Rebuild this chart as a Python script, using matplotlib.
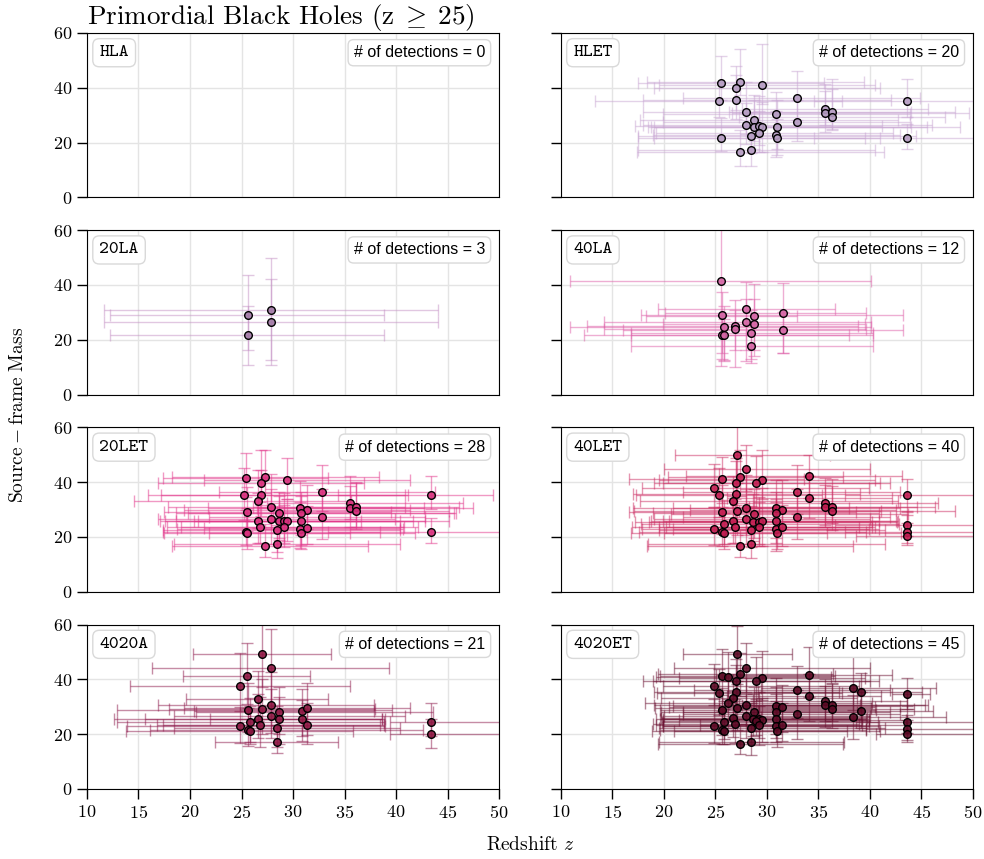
import matplotlib
matplotlib.use('Agg')
import matplotlib.pyplot as plt
from matplotlib.colors import to_rgba

plt.rcParams['font.family'] = 'serif'
plt.rcParams['font.serif'] = ['cmr10']
plt.rcParams['mathtext.fontset'] = 'cm'
plt.rcParams['axes.unicode_minus'] = False
plt.rcParams['axes.formatter.use_mathtext'] = True

names = ['HLA', 'HLET', '20LA', '40LA', '20LET', '40LET', '4020A', '4020ET']
n_detections = [0, 20, 3, 12, 28, 40, 21, 45]
marker_colors = ['#d4b9da', '#b59cc2', '#a27aa6', '#d466a5', '#d8307d', '#c21e52', '#8e1843', '#5c0a25']
bar_colors = ['#d4b9da', '#c9a6d3', '#c591c5', '#de5fa8', '#e2358a', '#cc2c62', '#8e1a4c', '#6a0f30']

# HLA: nothing detected
hla_z, hla_m = [], []
hla_zlo, hla_zhi, hla_mlo, hla_mhi = [], [], [], []

hlet_z = [25.5, 27.4, 27.0, 29.5, 25.3, 27.0, 32.9, 43.6, 28.0, 30.9, 35.6, 35.6, 36.3, 36.3, 28.7,
          28.0, 28.7, 29.2, 29.5, 31.0, 32.9, 25.5, 28.5, 29.2, 30.9, 31.0, 43.6, 27.4, 28.5]
hlet_m = [41.6, 42.2, 39.8, 41.0, 35.2, 35.5, 36.2, 35.2, 31.0, 30.6, 32.4, 30.7, 31.1, 29.5, 28.4,
          26.5, 25.7, 26.0, 25.7, 25.7, 27.4, 21.8, 22.3, 23.4, 22.7, 21.5, 21.8, 16.6, 17.4]
hlet_zlo = [8, 9, 8, 10, 12, 9, 11, 9, 10, 11, 8, 9, 10, 9, 11, 10, 10, 12, 11, 12, 13, 8, 11, 10, 12, 12, 9, 10, 11]
hlet_zhi = [10, 12, 14, 11, 12, 15, 12, 9, 16, 13, 10, 14, 12, 11, 14, 18, 20, 12, 16, 13, 11, 14, 16, 13, 12, 10, 9, 14, 12]
hlet_mlo = [6, 5, 8, 7, 6, 7, 8, 6, 8, 9, 6, 7, 6, 5, 8, 7, 8, 7, 9, 8, 7, 5, 6, 7, 8, 6, 4, 5, 6]
hlet_mhi = [10, 12, 8, 15, 7, 9, 10, 8, 11, 8, 9, 8, 12, 10, 9, 8, 10, 11, 9, 10, 8, 7, 9, 8, 9, 7, 5, 8, 9]

la20_z = [27.9, 25.6, 27.9, 25.6]
la20_m = [31.0, 29.1, 26.4, 21.6]
la20_zlo = [16.2, 13.4, 16.2, 13.4]
la20_zhi = [16.2, 13.2, 16.2, 13.2]
la20_mlo = [18.3, 12.7, 15.5, 10.7]
la20_mhi = [18.7, 14.5, 15.8, 10.8]

la40_z = [25.5, 28.0, 25.6, 28.7, 31.6, 28.0, 28.7, 26.9, 26.9, 25.8, 31.6, 28.5, 25.6, 25.8, 28.5]
la40_m = [41.6, 31.2, 29.1, 28.7, 29.9, 26.4, 25.8, 25.2, 23.9, 24.8, 23.5, 22.5, 21.8, 21.7, 17.6]
la40_zlo = [14.6, 8.6, 7.8, 10.4, 11.5, 13.8, 8.8, 14.4, 12.7, 14.9, 15.6, 11.7, 8.8, 13.6, 11.7]
la40_zhi = [14.6, 8.6, 17.6, 4.2, 8.0, 12.1, 10.8, 11.9, 12.7, 14.3, 11.6, 11.8, 14.7, 12.2, 11.8]
la40_mlo = [31.0, 19.1, 13.9, 14.7, 14.7, 10.2, 9.6, 9.0, 14.0, 12.3, 8.3, 9.7, 8.9, 9.3, 6.2]
la40_mhi = [20.0, 9.8, 8.5, 11.6, 10.7, 8.5, 9.0, 9.2, 7.0, 7.5, 6.6, 8.5, 7.4, 6.0, 8.0]

let20_z = [25.4, 27.3, 26.9, 29.4, 25.2, 26.9, 26.6, 32.8, 43.4, 27.9, 30.7, 31.4, 30.8, 35.5, 35.5,
           36.1, 36.1, 28.6, 25.5, 26.6, 27.9, 28.6, 29.1, 29.4, 30.8, 32.8, 26.8, 29.1, 28.4, 30.7,
           31.4, 30.8, 25.4, 25.5, 43.4, 27.3, 28.4]
let20_m = [41.5, 41.9, 39.8, 40.8, 35.3, 35.5, 33.3, 36.4, 35.3, 30.9, 30.5, 29.8, 28.6, 32.4, 30.7,
           30.9, 29.6, 28.6, 29.1, 25.9, 26.4, 25.9, 25.9, 25.7, 25.9, 27.4, 23.8, 23.5, 22.4, 22.9,
           23.4, 21.6, 21.9, 21.6, 21.9, 16.7, 17.3]
let20_zlo = [8, 9, 10, 8, 8, 11, 12, 10, 9, 10, 9, 12, 11, 8, 9, 10, 8, 10, 8, 9,
             11, 10, 12, 9, 10, 11, 9, 10, 11, 12, 10, 9, 8, 8, 10, 9, 10]
let20_zhi = [8, 11, 10, 12, 16, 14, 9, 11, 6, 13, 12, 10, 15, 11, 12, 10, 9, 17, 14, 10,
             12, 13, 16, 11, 12, 10, 14, 13, 12, 10, 9, 11, 13, 10, 8, 10, 12]
let20_mlo = [7, 6, 8, 7, 9, 8, 10, 7, 5, 8, 9, 7, 8, 6, 7, 8, 6, 9, 7, 8,
             9, 7, 8, 7, 9, 8, 6, 7, 8, 7, 6, 6, 5, 6, 4, 4, 5]
let20_mhi = [9, 10, 12, 8, 10, 9, 11, 10, 7, 12, 10, 9, 8, 10, 8, 9, 10, 8, 9, 10,
             11, 9, 10, 8, 9, 10, 9, 8, 9, 10, 8, 7, 8, 9, 5, 8, 7]

let40_z = [27.1, 28.0, 27.4, 25.6, 27.0, 29.5, 28.9, 34.1, 24.9, 25.3, 27.0, 26.7, 32.9, 34.1, 43.6,
           35.6, 35.6, 36.3, 36.3, 27.1, 25.6, 28.0, 28.7, 30.9, 31.5, 30.9, 32.9, 26.7, 28.0, 28.6,
           29.2, 29.5, 30.9, 25.8, 26.9, 24.9, 29.2, 30.9, 31.5, 28.5, 31.0, 25.6, 25.8, 43.6, 43.6,
           43.6, 27.4, 28.5]
let40_m = [49.8, 44.7, 41.9, 41.3, 39.8, 40.7, 39.6, 42.1, 37.8, 35.3, 35.6, 33.2, 36.3, 34.1, 35.2,
           32.5, 30.8, 31.0, 29.6, 29.6, 29.1, 30.7, 28.5, 30.7, 29.9, 28.6, 27.4, 25.8, 26.4, 25.6,
           25.6, 25.8, 25.8, 24.6, 23.8, 23.0, 23.6, 22.8, 23.6, 22.4, 21.6, 21.8, 21.6, 24.4, 21.9,
           20.2, 16.7, 17.5]
let40_zlo = [6, 8, 7, 9, 8, 10, 9, 12, 7, 8, 10, 9, 11, 8, 6, 9, 10, 8, 9, 10, 9, 11, 8, 10,
             9, 12, 11, 8, 9, 10, 12, 9, 11, 8, 10, 7, 9, 10, 12, 9, 11, 8, 9, 7, 6, 5, 9, 10]
let40_zhi = [9, 12, 10, 8, 14, 11, 13, 9, 15, 10, 12, 16, 10, 8, 12, 11, 9, 10, 12, 14, 13, 10, 15, 12,
             11, 10, 9, 16, 12, 14, 11, 13, 10, 17, 12, 15, 11, 10, 9, 13, 12, 14, 10, 12, 14, 12, 11, 13]
let40_mlo = [10, 8, 7, 9, 8, 7, 9, 8, 7, 8, 9, 10, 8, 7, 6, 8, 7, 6, 7, 9, 8, 10, 9, 8,
             7, 9, 8, 8, 9, 7, 8, 9, 8, 7, 6, 6, 7, 8, 7, 6, 6, 5, 6, 4, 4, 3, 4, 5]
let40_mhi = [14, 9, 10, 8, 9, 11, 10, 8, 9, 10, 12, 9, 10, 8, 6, 9, 8, 10, 9, 11, 10, 12, 9, 10,
             11, 8, 10, 9, 11, 10, 9, 12, 8, 9, 10, 8, 9, 10, 8, 9, 8, 9, 7, 5, 6, 5, 6, 6]

a4020_z = [27.0, 27.9, 25.5, 24.9, 26.6, 25.6, 27.0, 27.9, 28.6, 30.9, 31.4, 26.6, 27.9, 28.6, 30.9,
           25.8, 26.8, 31.4, 24.9, 25.6, 25.8, 28.4, 28.4, 43.4, 43.4]
a4020_m = [49.4, 44.3, 41.2, 37.5, 33.0, 28.8, 29.1, 30.6, 28.2, 28.4, 29.6, 25.5, 26.5, 25.5, 25.5,
           24.3, 23.5, 23.4, 22.9, 21.6, 21.3, 22.2, 17.3, 24.3, 20.1]
a4020_zlo = [6.7, 11.6, 6.2, 10.7, 7.0, 12.7, 9.0, 11.0, 8.0, 10.5, 12.0, 14.0, 9.5, 13.0, 9.0,
             12.9, 10.0, 14.0, 11.0, 9.5, 12.0, 10.0, 6.0, 4.0, 4.0]
a4020_zhi = [6.7, 11.4, 6.1, 10.6, 6.8, 14.0, 11.0, 10.0, 15.0, 7.0, 10.0, 12.0, 13.0, 10.0, 8.0,
             13.0, 12.0, 7.0, 14.0, 17.0, 10.0, 12.0, 6.0, 12.0, 12.0]
a4020_mlo = [12, 14, 10, 9, 8, 8, 9, 10, 8, 9, 10, 7, 8, 9, 8, 7, 8, 7, 6, 6, 5, 7, 4, 5, 5]
a4020_mhi = [15, 14, 12, 12, 10, 10, 11, 12, 9, 8, 9, 9, 10, 8, 7, 9, 10, 8, 7, 8, 9, 8, 6, 7, 5.5]

et4020_z = [27.1, 28.0, 27.4, 25.6, 26.2, 27.0, 29.5, 28.9, 34.1, 24.9, 25.3, 27.0, 32.9, 34.1, 43.6,
            38.4, 39.1, 26.7, 26.2, 28.0, 27.1, 25.6, 28.7, 30.9, 31.5, 30.9, 35.6, 35.6, 36.3, 36.3,
            39.1, 38.4, 32.9, 26.7, 28.0, 28.6, 29.2, 29.5, 30.9, 25.8, 26.9, 24.9, 28.9, 29.2, 30.9,
            31.5, 28.5, 31.0, 25.6, 25.8, 43.6, 43.6, 43.6, 27.4, 28.5]
et4020_m = [49.4, 44.3, 41.8, 41.2, 41.0, 39.6, 40.5, 39.3, 41.7, 37.5, 34.9, 35.4, 36.0, 33.8, 34.8,
            36.9, 35.3, 33.1, 31.3, 30.6, 29.4, 28.8, 28.1, 30.4, 29.8, 28.2, 32.0, 30.6, 30.8, 29.3,
            28.3, 26.3, 27.2, 25.8, 26.5, 25.5, 25.5, 25.3, 25.5, 24.3, 23.7, 22.9, 24.8, 23.2, 23.1,
            23.4, 22.3, 21.2, 21.6, 21.3, 24.3, 21.9, 20.1, 16.6, 17.3]
et4020_zlo = [5.2, 7, 8, 6, 7, 9, 8, 10, 9, 5, 6, 8, 10, 8, 1.5, 9, 10, 7, 8, 9, 8, 6, 9, 10, 11, 9, 10, 8,
              9, 11, 10, 9, 11, 7, 8, 9, 10, 8, 11, 6, 8, 5, 9, 10, 11, 8, 9, 10, 6, 7, 5, 4, 3, 8, 9]
et4020_zhi = [5.3, 12, 9, 11, 10, 13, 10, 12, 8, 14, 12, 10, 9, 7, 2.2, 8, 6, 12, 14, 11, 13, 15, 10, 12,
              9, 11, 8, 10, 9, 8, 7, 9, 10, 13, 12, 11, 10, 14, 9, 15, 12, 16, 11, 10, 9, 12, 13, 10,
              14, 12, 10, 12, 11, 10, 9]
et4020_mlo = [10, 9, 8, 7, 8, 9, 8, 7, 8, 7, 8, 9, 10, 9, 5.6, 8, 10, 8, 9, 7, 8, 9, 7, 8, 9, 8, 7, 8,
              6, 7, 6, 8, 9, 7, 8, 6, 7, 8, 7, 6, 7, 6, 5, 7, 6, 6, 5, 6, 5, 5, 4, 4, 3, 4, 5]
et4020_mhi = [10, 9, 8, 10, 9, 8, 10, 9, 10, 8, 9, 10, 9, 8, 5.8, 11.5, 7, 9, 8, 10, 9, 8, 9, 10, 8, 9,
              8, 7, 8, 9, 7, 8, 9, 10, 8, 9, 10, 8, 9, 8, 9, 10, 8, 7, 9, 8, 9, 8, 7, 8, 6, 5, 5, 7, 6]

all_z = [hla_z, hlet_z, la20_z, la40_z, let20_z, let40_z, a4020_z, et4020_z]
all_m = [hla_m, hlet_m, la20_m, la40_m, let20_m, let40_m, a4020_m, et4020_m]
all_zlo = [hla_zlo, hlet_zlo, la20_zlo, la40_zlo, let20_zlo, let40_zlo, a4020_zlo, et4020_zlo]
all_zhi = [hla_zhi, hlet_zhi, la20_zhi, la40_zhi, let20_zhi, let40_zhi, a4020_zhi, et4020_zhi]
all_mlo = [hla_mlo, hlet_mlo, la20_mlo, la40_mlo, let20_mlo, let40_mlo, a4020_mlo, et4020_mlo]
all_mhi = [hla_mhi, hlet_mhi, la20_mhi, la40_mhi, let20_mhi, let40_mhi, a4020_mhi, et4020_mhi]


fig, axes = plt.subplots(4, 2, figsize=(9.84, 8.59), dpi=100, sharex=True, sharey=True)
fig.subplots_adjust(left=0.0884, right=0.9888, top=0.9616, bottom=0.0815, wspace=0.15, hspace=0.2)

box = dict(boxstyle='round,pad=0.35', fc='white', ec='#d9d9d9', lw=1)

for i, ax in enumerate(axes.flat):
    ax.set_xlim(10, 50)
    ax.set_ylim(0, 60)
    ax.set_xticks(range(10, 51, 5))
    ax.set_yticks([0, 20, 40, 60])
    ax.grid(True, color='#e4e4e4', lw=1)
    ax.set_axisbelow(True)
    ax.tick_params(direction='out', length=7, width=1, labelsize=13)
    if i < 6:
        ax.tick_params(axis='x', length=0)

    if len(all_z[i]) > 0:
        ax.errorbar(all_z[i], all_m[i], xerr=[all_zlo[i], all_zhi[i]], yerr=[all_mlo[i], all_mhi[i]],
                    fmt='none', ecolor=to_rgba(bar_colors[i], 0.5), elinewidth=1, capsize=4, capthick=1)
        ax.plot(all_z[i], all_m[i], 'o', ms=5.5, mfc=to_rgba(marker_colors[i], 0.9), mec='k', mew=1, zorder=3)

    ax.text(0.03, 0.88, names[i], transform=ax.transAxes, family='cmtt10', fontsize=13.5,
            ha='left', va='center', bbox=box)
    ax.text(0.966, 0.88, f'# of detections = {n_detections[i]}', transform=ax.transAxes,
            family='Liberation Sans', fontsize=11.5, ha='right', va='center', bbox=box)

axes[0, 0].set_title(r'Primordial Black Holes (z$\;\geq\;$25)', loc='left', fontsize=19.5, pad=4)
fig.text(0.018, 0.517, r'$\rm Source-frame\ Mass$', rotation=90, ha='center', va='center', fontsize=14)
fig.text(0.539, 0.016, 'Redshift $z$', ha='center', va='center', fontsize=14)

fig.savefig('out.png', dpi=100)
